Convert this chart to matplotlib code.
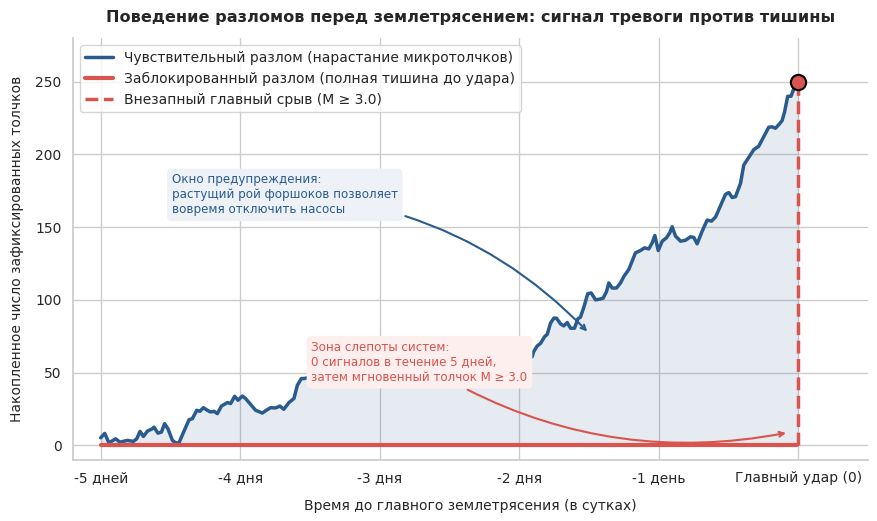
import numpy as np
import matplotlib.pyplot as plt
import seaborn as sns

sns.set_theme(style='whitegrid')
plt.rcParams['font.family'] = ['DejaVu Sans']

# cumulative foreshock count of the sensitive fault (days before main shock)
days = [-5.000, -4.971, -4.941, -4.893, -4.862, -4.809, -4.766, -4.742, -4.718, -4.694,
        -4.665, -4.630, -4.618, -4.590, -4.565, -4.542, -4.518, -4.486, -4.463, -4.439,
        -4.403, -4.367, -4.343, -4.312, -4.289, -4.264, -4.236, -4.212, -4.188, -4.164,
        -4.135, -4.092, -4.069, -4.040, -4.016, -3.985, -3.962, -3.926, -3.890, -3.842,
        -3.807, -3.782, -3.747, -3.716, -3.688, -3.651, -3.615, -3.591, -3.562, -3.544,
        -3.496, -3.424, -3.352, -3.281, -3.209, -3.138, -3.066, -2.994, -2.923, -2.851,
        -2.779, -2.708, -2.636, -2.564, -2.493, -2.421, -2.350, -2.278, -2.206, -2.135,
        -2.063, -1.991, -1.934, -1.908, -1.898, -1.872, -1.848, -1.819, -1.800, -1.777,
        -1.753, -1.734, -1.705, -1.682, -1.657, -1.633, -1.605, -1.581, -1.562, -1.538,
        -1.510, -1.485, -1.454, -1.423, -1.399, -1.375, -1.359, -1.335, -1.304, -1.275,
        -1.251, -1.216, -1.192, -1.168, -1.132, -1.103, -1.072, -1.048, -1.029, -1.005,
        -0.976, -0.946, -0.922, -0.905, -0.881, -0.845, -0.810, -0.774, -0.750, -0.726,
        -0.690, -0.654, -0.623, -0.594, -0.559, -0.523, -0.499, -0.475, -0.451, -0.415,
        -0.392, -0.356, -0.320, -0.285, -0.249, -0.213, -0.189, -0.165, -0.136, -0.117,
        -0.100, -0.077, -0.053, -0.034, -0.014, 0.000]
counts = [5.3, 8.3, 1.8, 4.6, 2.3, 3.5, 2.8, 4.6, 9.7, 6.2,
          9.9, 11.5, 12.6, 8.5, 9.2, 15.0, 11.5, 3.5, 1.8, 1.8,
          9.9, 17.7, 18.4, 24.2, 23.5, 26.0, 24.2, 23.0, 23.5, 21.9,
          27.1, 29.5, 28.8, 33.8, 31.1, 34.0, 32.3, 28.3, 24.2, 22.3,
          24.6, 26.0, 25.8, 27.1, 24.9, 29.5, 32.3, 41.4, 46.0, 46.0,
          47.0, 45.0, 49.0, 48.0, 51.0, 50.0, 53.0, 52.0, 55.0, 54.0,
          57.0, 56.0, 58.0, 57.0, 59.0, 58.0, 60.0, 59.0, 61.0, 60.0,
          62.0, 59.0, 60.0, 61.0, 64.4, 68.4, 70.2, 74.8, 76.4, 84.0,
          87.5, 87.5, 83.6, 82.2, 84.5, 80.6, 80.6, 87.0, 88.2, 95.0,
          104.3, 104.8, 100.1, 100.6, 101.3, 105.9, 111.7, 108.2, 108.2, 111.7,
          116.2, 120.9, 126.6, 132.4, 134.0, 135.8, 135.1, 139.3, 144.3, 134.0,
          140.4, 142.7, 146.2, 150.3, 143.9, 140.4, 141.0, 143.4, 143.0, 138.6,
          147.3, 154.9, 154.2, 157.0, 164.6, 172.6, 173.8, 170.4, 171.0, 180.2,
          192.7, 198.0, 203.3, 205.6, 212.2, 218.7, 219.0, 218.0, 221.0, 223.3,
          229.0, 240.0, 240.0, 245.0, 249.3, 250.0]

# locked fault: silence until the rupture
locked_days = [-5.0, -0.01]
locked_counts = [0, 0]
main_shock = 250

tick_days = [-5, -4, -3, -2, -1, 0]
tick_labels = ['-5 дней', '-4 дня', '-3 дня', '-2 дня', '-1 день', 'Главный удар (0)']

blue = '#2a5b8e'
red = '#d9534f'

fig, ax = plt.subplots(figsize=(8.77, 5.21), dpi=100)
fig.subplots_adjust(left=0.083, right=0.99, bottom=0.117, top=0.927)

ax.fill_between(days, counts, 0, color=blue, alpha=0.12, linewidth=0)
ax.plot(days, counts, color=blue, linewidth=2.5,
        label='Чувствительный разлом (нарастание микротолчков)')
ax.plot(locked_days, locked_counts, color=red, linewidth=3,
        label='Заблокированный разлом (полная тишина до удара)')
ax.plot([0, 0], [0, main_shock], color=red, linewidth=2.5, linestyle='--',
        label='Внезапный главный срыв (M ≥ 3.0)')
ax.plot([0], [main_shock], 'o', color=red, markersize=11,
        markeredgecolor='black', markeredgewidth=1.5, zorder=5)

ax.annotate('Окно предупреждения:\nрастущий рой форшоков позволяет\nвовремя отключить насосы',
            xy=(-1.50, 77), xytext=(-4.49, 187), fontsize=8.6, color=blue,
            ha='left', va='top',
            bbox=dict(boxstyle='round,pad=0.4', facecolor='#eef2f7', edgecolor='none'),
            arrowprops=dict(arrowstyle='->', color=blue, linewidth=1.5,
                            connectionstyle='arc3,rad=-0.2'))
ax.annotate('Зона слепоты систем:\n0 сигналов в течение 5 дней,\nзатем мгновенный толчок M ≥ 3.0',
            xy=(-0.07, 9), xytext=(-3.49, 72), fontsize=8.6, color=red,
            ha='left', va='top',
            bbox=dict(boxstyle='round,pad=0.4', facecolor='#fcefee', edgecolor='none'),
            arrowprops=dict(arrowstyle='->', color=red, linewidth=1.5,
                            connectionstyle='arc3,rad=0.2'))

ax.set_xlim(-5.2, 0.5)
ax.set_ylim(-10, 280)
ax.set_xticks(tick_days, labels=tick_labels)
ax.set_yticks([0, 50, 100, 150, 200, 250])
ax.tick_params(labelsize=10, length=0, pad=8)
ax.set_title('Поведение разломов перед землетрясением: сигнал тревоги против тишины',
             fontsize=11.6, fontweight='bold', pad=11.5)
ax.set_xlabel('Время до главного землетрясения (в сутках)', fontsize=10, labelpad=10)
ax.set_ylabel('Накопленное число зафиксированных толчков', fontsize=10, labelpad=8)
ax.legend(loc='upper left', fontsize=10)
sns.despine(ax=ax)

plt.savefig('out.png')
